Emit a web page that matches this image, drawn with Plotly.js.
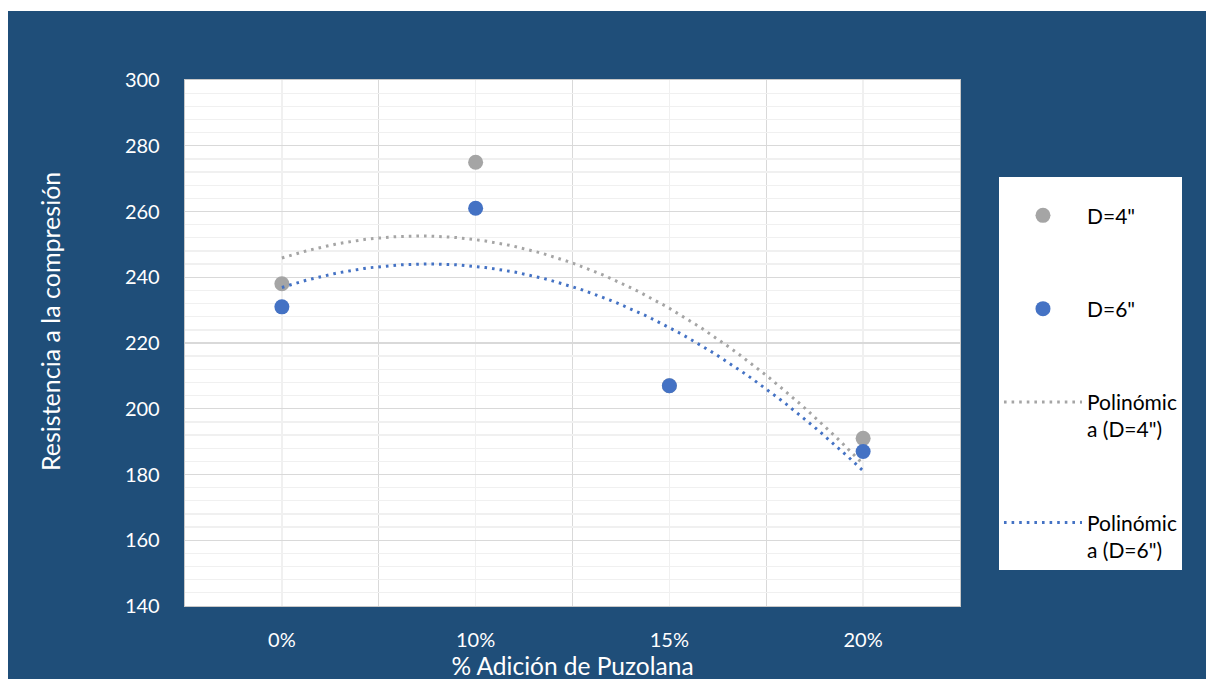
<!DOCTYPE html>
<html>
<head>
<meta charset="utf-8">
<script src="https://cdn.plot.ly/plotly-3.0.1.min.js"></script>
<style>
  html, body { margin: 0; padding: 0; background: #ffffff; overflow: hidden; width: 1206px; height: 679px; }
  #chart { position: absolute; left: 8px; top: 11px; width: 1198px; height: 700px; }
</style>
</head>
<body>
<div id="chart"></div>
<script>
// ---- data ----
const categories = ['0%', '10%', '15%', '20%'];
const d4Values = [238, 275, 207, 191];   // D=4"
const d6Values = [231, 261, 207, 187];   // D=6"
const seriesNames = ['D=4"', 'D=6"'];
const trendNames = ['Polinómic<br>a (D=4")', 'Polinómic<br>a (D=6")'];
const yTickVals = [140, 160, 180, 200, 220, 240, 260, 280, 300];
const xTitle = '% Adición de Puzolana';
const yTitle = 'Resistencia a la compresión';

// axis positions of categories (0..n-1)
const xPos = categories.map((c, i) => i);

// Excel-style 2nd-order polynomial trendline (least squares on x = 1..n)
function polyFit2(ys) {
  const n = ys.length;
  const xs = ys.map((_, i) => i + 1);
  let S = [0, 0, 0, 0, 0], T = [0, 0, 0];
  for (let i = 0; i < n; i++) {
    const x = xs[i], y = ys[i];
    for (let k = 0; k <= 4; k++) S[k] += Math.pow(x, k);
    for (let k = 0; k <= 2; k++) T[k] += y * Math.pow(x, k);
  }
  const A = [[S[0], S[1], S[2]], [S[1], S[2], S[3]], [S[2], S[3], S[4]]];
  const b = T.slice();
  for (let i = 0; i < 3; i++) {
    for (let j = i + 1; j < 3; j++) {
      const f = A[j][i] / A[i][i];
      for (let k = i; k < 3; k++) A[j][k] -= f * A[i][k];
      b[j] -= f * b[i];
    }
  }
  const c = [0, 0, 0];
  for (let i = 2; i >= 0; i--) {
    let s = b[i];
    for (let k = i + 1; k < 3; k++) s -= A[i][k] * c[k];
    c[i] = s / A[i][i];
  }
  return c; // c0 + c1 x + c2 x^2
}
function trend(ys) {
  const c = polyFit2(ys);
  const xs = [], out = [];
  const steps = 120;
  for (let s = 0; s <= steps; s++) {
    const x = 1 + (ys.length - 1) * s / steps;
    xs.push(x - 1);
    out.push(c[0] + c[1] * x + c[2] * x * x);
  }
  return { x: xs, y: out };
}

const GRAY = '#A5A5A5';
const BLUE = '#4472C4';
const FONT = 'Lato, "Open Sans", sans-serif';

const t4 = trend(d4Values);
const t6 = trend(d6Values);

const traces = [
  { x: xPos, y: d4Values, name: seriesNames[0], mode: 'markers', type: 'scatter',
    marker: { color: GRAY, size: 15 }, legendgroup: 'a' },
  { x: xPos, y: d6Values, name: seriesNames[1], mode: 'markers', type: 'scatter',
    marker: { color: BLUE, size: 15 }, legendgroup: 'b' },
  { x: t4.x, y: t4.y, name: trendNames[0], mode: 'lines', type: 'scatter',
    line: { color: GRAY, width: 3, dash: '2.6px,5px' }, legendgroup: 'c' },
  { x: t6.x, y: t6.y, name: trendNames[1], mode: 'lines', type: 'scatter',
    line: { color: BLUE, width: 3, dash: '2.6px,5px' }, legendgroup: 'd' }
];

const layout = {
  width: 1198, height: 700,
  paper_bgcolor: '#1F4E79',
  plot_bgcolor: '#FFFFFF',
  margin: { l: 177, r: 246, t: 69, b: 105 },
  font: { family: FONT, size: 20, color: '#FFFFFF' },
  showlegend: true,
  hovermode: false,
  xaxis: {
    range: [-0.5, categories.length - 0.5],
    tickmode: 'array', tickvals: xPos, ticktext: categories,
    showgrid: true, gridcolor: '#F0F0F0', gridwidth: 1.3,
    minor: { tickmode: 'array', tickvals: [0.5, 1.5, 2.5], showgrid: true, gridcolor: '#D9D9D9', gridwidth: 1.3, ticklen: 0 },
    zeroline: false, showline: true, mirror: true, linecolor: '#C8C8C8', linewidth: 1.3,
    ticks: '', ticklabelstandoff: 16,
    tickfont: { family: FONT, size: 20, color: '#FFFFFF' },
    title: { text: xTitle, font: { family: FONT, size: 24.5, color: '#FFFFFF' }, standoff: 7 },
    automargin: true, fixedrange: true
  },
  yaxis: {
    range: [140, 300],
    tickmode: 'array', tickvals: yTickVals,
    showgrid: true, gridcolor: '#D9D9D9', gridwidth: 1.3,
    minor: { dtick: 4, showgrid: true, gridcolor: '#F0F0F0', gridwidth: 1.3, ticklen: 0 },
    zeroline: false, showline: true, mirror: true, linecolor: '#C8C8C8', linewidth: 1.3,
    ticks: '', ticklabelstandoff: 20,
    tickfont: { family: FONT, size: 20, color: '#FFFFFF' },
    automargin: false, fixedrange: true
  },
  annotations: [{
    text: yTitle, textangle: -90,
    xref: 'paper', yref: 'paper', x: -0.1742, y: 0.5418,
    xanchor: 'center', yanchor: 'middle', showarrow: false,
    font: { family: FONT, size: 25, color: '#FFFFFF' }
  }],
  legend: {
    x: 1.0503, y: 0.8156, xanchor: 'left', yanchor: 'top',
    bgcolor: '#FFFFFF', borderwidth: 0,
    font: { family: FONT, size: 21, color: '#000000' },
    title: { text: ' ', font: { family: FONT, size: 14, color: '#000000' } },
    traceorder: 'grouped', tracegroupgap: 63,
    itemwidth: 78, valign: 'top',
    itemclick: false, itemdoubleclick: false
  }
};

Plotly.newPlot('chart', traces, layout, { staticPlot: true, displayModeBar: false });
</script>
</body>
</html>
